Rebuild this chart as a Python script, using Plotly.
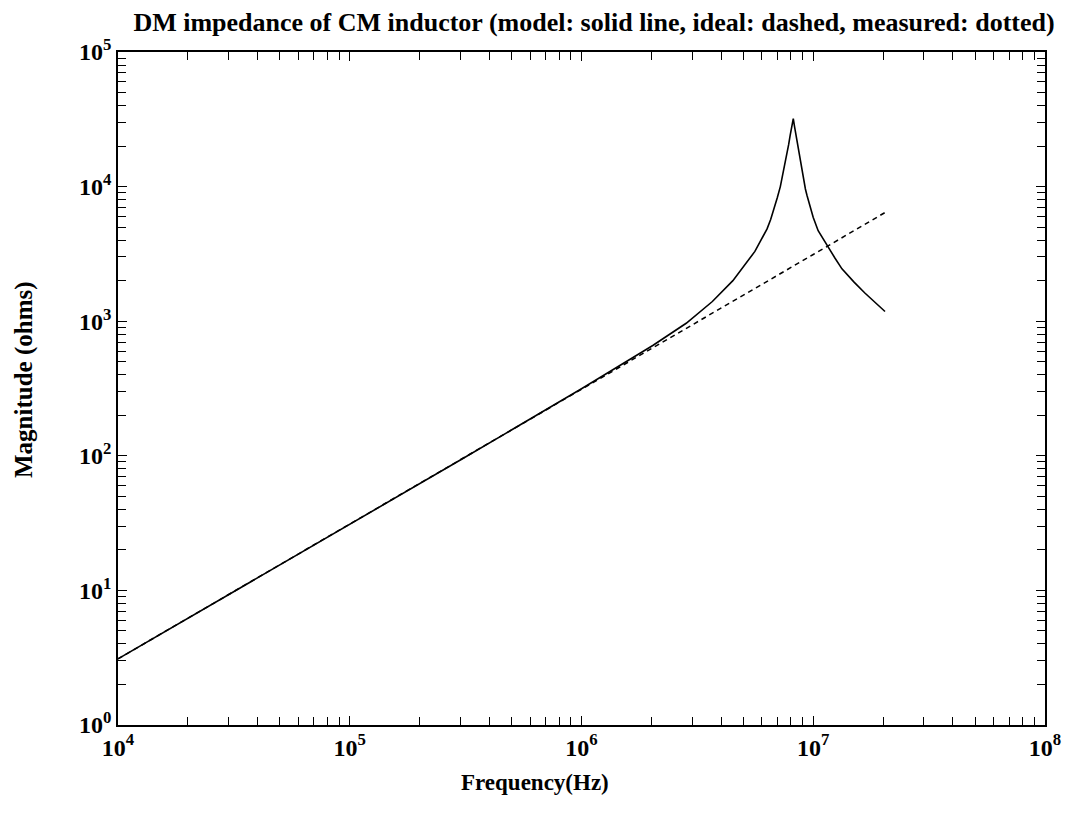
import plotly.graph_objects as go

# Model impedance (solid line): frequency in Hz, |Z| in ohms
freq_model = [1e4, 3e4, 1e5, 3e5, 1e6, 1.5e6, 2.03e6, 2.83e6, 3.67e6, 4.5e6,
              5.27e6, 5.6e6, 5.9e6, 6.1e6, 6.32e6, 6.55e6, 6.8e6, 7.0e6,
              7.21e6, 7.4e6, 7.55e6, 7.7e6, 7.83e6, 7.95e6, 8.05e6, 8.13e6,
              8.2e6, 8.3e6, 8.45e6, 8.65e6, 8.85e6, 9.05e6, 9.25e6, 9.4e6,
              9.7e6, 1.0e7, 1.05e7, 1.1e7, 1.15e7, 1.24e7, 1.33e7, 1.42e7,
              1.5e7, 1.67e7, 1.85e7, 2.04e7]
z_model = [3.1, 9.3, 31, 93, 315, 480, 660, 965, 1400, 2000,
           2850, 3300, 3900, 4350, 4850, 5700, 6900, 8300,
           10000, 12300, 14500, 17500, 20500, 24000, 27500, 30500,
           32000, 28000, 23500, 19000, 14500, 11500, 9600, 8600,
           7000, 5900, 4700, 4100, 3600, 2950, 2450, 2150,
           1950, 1620, 1380, 1180]

# Ideal inductor (dashed line)
freq_ideal = [1e4, 1e5, 1e6, 1e7, 2.05e7]
z_ideal = [3.1, 31, 312, 3130, 6450]

# Axis ticks
x_major = [1e4, 1e5, 1e6, 1e7, 1e8]
x_labels = ["10<sup>4</sup>", "10<sup>5</sup>", "10<sup>6</sup>", "10<sup>7</sup>", "10<sup>8</sup>"]
y_major = [1e0, 1e1, 1e2, 1e3, 1e4, 1e5]
y_labels = ["10<sup>0</sup>", "10<sup>1</sup>", "10<sup>2</sup>", "10<sup>3</sup>", "10<sup>4</sup>", "10<sup>5</sup>"]

x_minor = [m * 10 ** e for e in range(4, 8) for m in range(2, 10)]
y_minor = [m * 10 ** e for e in range(0, 5) for m in range(2, 10)]

FONT = "Liberation Serif"

fig = go.Figure()
fig.add_trace(go.Scatter(x=freq_ideal, y=z_ideal, mode="lines",
                         line=dict(color="black", width=1.5, dash="5px,4px"),
                         showlegend=False))
fig.add_trace(go.Scatter(x=freq_model, y=z_model, mode="lines",
                         line=dict(color="black", width=1.6),
                         showlegend=False))

axis_common = dict(
    type="log",
    showgrid=False,
    zeroline=False,
    showline=True,
    linecolor="black",
    linewidth=1.5,
    mirror="allticks",
    ticks="inside",
    ticklen=9,
    tickwidth=1.3,
    tickcolor="black",
    automargin=False,
    ticklabeloverflow="allow",
    tickfont=dict(family=FONT, size=24, color="black", weight="bold"),
)

fig.update_xaxes(
    **axis_common,
    range=[4, 8],
    tickmode="array",
    tickvals=x_major,
    ticktext=x_labels,
    minor=dict(ticks="inside", ticklen=8, tickwidth=1.2, tickcolor="black",
               tickmode="array", tickvals=x_minor, showgrid=False),
)
fig.update_yaxes(
    **axis_common,
    range=[0, 5],
    tickmode="array",
    tickvals=y_major,
    ticktext=y_labels,
    minor=dict(ticks="inside", ticklen=8, tickwidth=1.2, tickcolor="black",
               tickmode="array", tickvals=y_minor, showgrid=False),
)

fig.update_layout(
    width=1067,
    height=819,
    margin=dict(l=118, r=22, t=52, b=94),
    paper_bgcolor="white",
    plot_bgcolor="white",
    font=dict(family=FONT, color="black"),
    title=dict(
        text="DM impedance of CM inductor (model: solid line, ideal: dashed, measured: dotted)",
        font=dict(family=FONT, size=26, color="black", weight="bold"),
        x=0.125, xanchor="left", xref="container",
        y=0.973, yanchor="middle", yref="container",
    ),
    annotations=[
        dict(text="Frequency(Hz)", xref="paper", yref="paper",
             x=0.45, y=-0.086, xanchor="center", yanchor="middle",
             showarrow=False,
             font=dict(family=FONT, size=23, color="black", weight="bold")),
        dict(text="Magnitude (ohms)", xref="paper", yref="paper",
             x=-0.1015, y=0.514, xanchor="center", yanchor="middle", textangle=-90,
             showarrow=False,
             font=dict(family=FONT, size=25, color="black", weight="bold")),
    ],
)

fig.write_html("out.html")
